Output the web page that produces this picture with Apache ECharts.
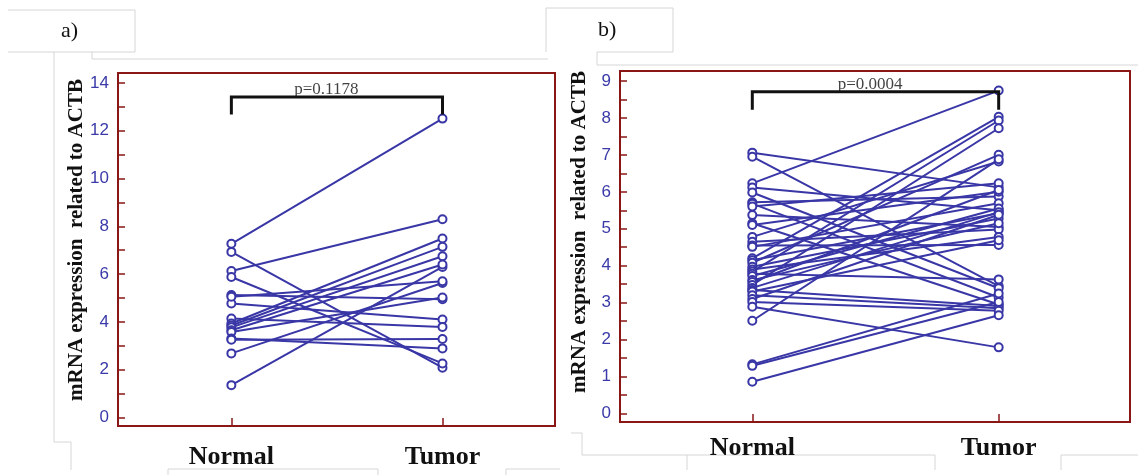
<!DOCTYPE html>
<html>
<head>
<meta charset="utf-8">
<script src="https://cdn.jsdelivr.net/npm/echarts@6/dist/echarts.min.js"></script>
<style>
  html, body { margin: 0; padding: 0; background: #fff; }
  #chart { width: 1138px; height: 475px; }
</style>
</head>
<body>
<div id="chart"></div>
<script>
// groups on the x axis
const groups = ["Normal", "Tumor"];

// panel a) paired values (normal -> tumor)
const aNormal = [7.27, 6.93, 6.13, 5.88, 1.35, 2.68, 5.12, 4.77, 5.05, 4.14, 3.93, 3.85, 3.77, 3.65, 3.58, 3.30, 3.25];
const aTumor  = [12.51, 2.08, 8.30, 2.26, 6.30, 5.63, 4.95, 4.10, 5.70, 3.79, 7.49, 7.14, 6.75, 6.40, 5.02, 2.89, 3.28];
const aTicks = [0, 2, 4, 6, 8, 10, 12, 14];
const aMinorTicks = [0, 1, 2, 3, 4, 5, 6, 7, 8, 9, 10, 11, 12, 13, 14];
const aBracket = [12.74, 13.41];
const aPValue = "p=0.1178";

// panel b) paired values (normal -> tumor)
const bNormal = [7.06, 6.95, 6.23, 6.12, 5.98, 5.72, 5.68, 5.60, 5.37, 5.15, 5.10, 4.78, 4.65, 4.55, 4.51,
                 4.20, 4.15, 4.08, 3.97, 3.90, 3.84, 3.78, 3.72, 3.61, 3.56, 3.48, 3.40, 3.34, 3.30, 3.20,
                 3.10, 3.02, 2.89, 2.51, 1.33, 1.29, 0.86];
const bTumor  = [6.12, 3.45, 8.74, 5.50, 3.39, 5.87, 3.14, 6.23, 5.05, 2.95, 6.00, 6.82, 4.98, 4.56, 5.69,
                 8.03, 5.42, 7.00, 5.28, 4.78, 7.93, 3.63, 5.55, 5.15, 6.05, 7.72, 5.45, 2.91, 4.69, 2.85,
                 5.38, 2.78, 1.79, 6.88, 3.25, 3.02, 2.66];
const bTicks = [0, 1, 2, 3, 4, 5, 6, 7, 8, 9];
const bMinorTicks = [0, 0.5, 1, 1.5, 2, 2.5, 3, 3.5, 4, 4.5, 5, 5.5, 6, 6.5, 7, 7.5, 8, 8.5, 9];
const bBracket = [8.26, 8.71];
const bPValue = "p=0.0004";

const yTitle = "mRNA expression  related to ACTB";

const lineColor = "#3936a6";
const frameColor = "#8a1616";
const labelBlue = "#3a3aa8";

function pairSeries(normal, tumor, idx) {
  return normal.map((n, i) => ({
    type: "line",
    xAxisIndex: idx,
    yAxisIndex: idx,
    data: [[0, n], [1, tumor[i]]],
    symbol: "emptyCircle",
    symbolSize: 8,
    lineStyle: { color: lineColor, width: 2 },
    itemStyle: { color: lineColor, borderWidth: 1.4 },
    silent: true,
    z: 2,
  }));
}

function bracketSeries(br, pText, idx, textX) {
  return [
    {
      type: "line",
      xAxisIndex: idx,
      yAxisIndex: idx,
      data: [[0, br[0]], [0, br[1]], [1, br[1]], [1, br[0]]],
      symbol: "none",
      lineStyle: { color: "#111", width: 3, cap: "square", join: "miter" },
      silent: true,
      z: 3,
    },
    {
      type: "scatter",
      xAxisIndex: idx,
      yAxisIndex: idx,
      data: [[textX, br[1]]],
      symbolSize: 0,
      label: {
        show: true,
        position: "top",
        distance: -1,
        formatter: pText,
        color: "#111",
        fontFamily: "Liberation Serif",
        fontSize: 17,
      },
      silent: true,
      z: 4,
    },
  ];
}

function xAxis(idx, margin) {
  return {
    gridIndex: idx,
    type: "value",
    min: -0.537,
    max: 1.533,
    splitLine: { show: false },
    axisLine: { show: false, onZero: false },
    axisTick: { show: true, inside: true, length: 8, customValues: [0, 1], lineStyle: { color: frameColor, width: 1.5 } },
    axisLabel: {
      customValues: [0, 1],
      formatter: (v) => groups[Math.round(v)],
      fontFamily: "Liberation Serif",
      fontWeight: "bold",
      fontSize: 26,
      color: "#111",
      margin: margin,
    },
  };
}

function yAxis(idx, min, max, ticks, minor) {
  return {
    gridIndex: idx,
    type: "value",
    min: min,
    max: max,
    splitLine: { show: false },
    axisLine: { show: false, onZero: false },
    axisTick: { show: true, inside: true, length: 7, customValues: minor, lineStyle: { color: frameColor, width: 1.5 } },
    axisLabel: {
      customValues: ticks,
      fontFamily: "Liberation Sans",
      fontSize: 17,
      color: labelBlue,
      margin: 9,
    },
  };
}

const gray = { stroke: "#d6d6d6", lineWidth: 1, fill: null };

const option = {
  animation: false,
  backgroundColor: "#fff",
  grid: [
    { left: 118, right: 583, top: 73, bottom: 49, show: true, borderColor: frameColor, borderWidth: 2, backgroundColor: "#fff" },
    { left: 620, right: 8, top: 71, bottom: 53, show: true, borderColor: frameColor, borderWidth: 2, backgroundColor: "#fff" },
  ],
  xAxis: [xAxis(0, 18), xAxis(1, 13)],
  yAxis: [yAxis(0, -0.36, 14.42, aTicks, aMinorTicks), yAxis(1, -0.23, 9.27, bTicks, bMinorTicks)],
  graphic: [
    // faint layout boxes from the scan
    { type: "polyline", shape: { points: [[8, 10], [135, 10], [135, 52], [8, 52]] }, style: gray, silent: true },
    { type: "polyline", shape: { points: [[54, 52], [54, 442], [71, 442], [71, 470]] }, style: gray, silent: true },
    { type: "polyline", shape: { points: [[92, 52], [92, 59], [548, 59]] }, style: gray, silent: true },
    { type: "polyline", shape: { points: [[168, 475], [168, 469], [378, 469], [378, 475]] }, style: gray, silent: true },
    { type: "polyline", shape: { points: [[506, 475], [506, 469], [560, 469]] }, style: gray, silent: true },
    { type: "polyline", shape: { points: [[546, 52], [546, 8], [673, 8], [673, 52], [597, 52], [597, 65], [1138, 65]] }, style: gray, silent: true },
    { type: "polyline", shape: { points: [[571, 433], [582, 433], [582, 455], [687, 455], [687, 470]] }, style: gray, silent: true },
    { type: "polyline", shape: { points: [[687, 455], [935, 455], [935, 470]] }, style: gray, silent: true },
    { type: "polyline", shape: { points: [[1061, 470], [1061, 455], [1138, 455]] }, style: gray, silent: true },
    // panel letters
    { type: "text", left: 61, top: 20, style: { text: "a)", font: "22px 'Liberation Serif'", fill: "#111" } },
    { type: "text", left: 598, top: 19, style: { text: "b)", font: "22px 'Liberation Serif'", fill: "#111" } },
    // y-axis titles
    {
      type: "text", x: 77, y: 240, rotation: Math.PI / 2,
      style: { text: yTitle, font: "bold 21px 'Liberation Serif'", fill: "#111", align: "center", verticalAlign: "middle" },
    },
    {
      type: "text", x: 580, y: 232, rotation: Math.PI / 2,
      style: { text: yTitle, font: "bold 21px 'Liberation Serif'", fill: "#111", align: "center", verticalAlign: "middle" },
    },
  ],
  series: [
    ...pairSeries(aNormal, aTumor, 0),
    ...pairSeries(bNormal, bTumor, 1),
    ...bracketSeries(aBracket, aPValue, 0, 0.45),
    ...bracketSeries(bBracket, bPValue, 1, 0.478),
  ],
};

const chart = echarts.init(document.getElementById("chart"), null, { renderer: "canvas" });
chart.setOption(option);
</script>
</body>
</html>
